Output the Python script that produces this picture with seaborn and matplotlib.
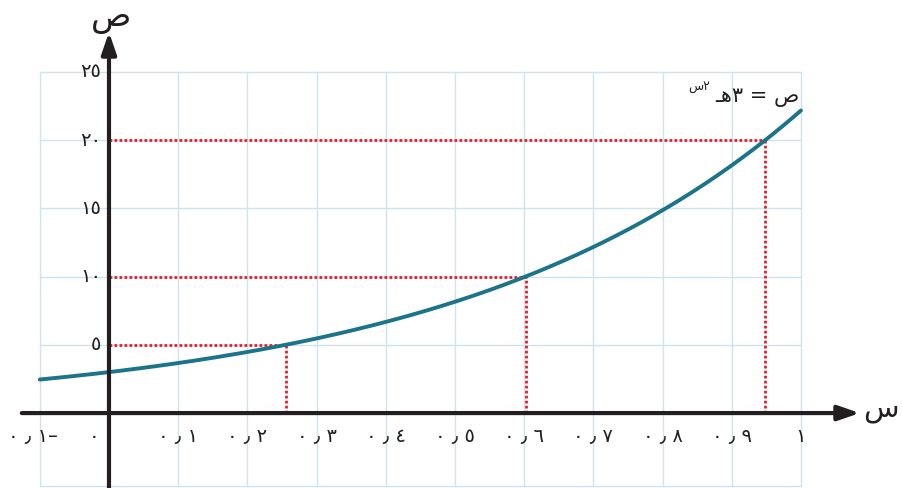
import numpy as np
import pandas as pd
import matplotlib
matplotlib.use("Agg")
import matplotlib.pyplot as plt
import seaborn as sns

# Function y = a * e^(b x)
coef_a = 3.0
rate_b = 2.0
x_start, x_end = -0.1, 1.0

# Ticks
x_ticks = [-0.1, 0.0, 0.1, 0.2, 0.3, 0.4, 0.5, 0.6, 0.7, 0.8, 0.9, 1.0]
x_tick_labels = ["٠ ٫ ١–", "٠", "٠ ٫ ١", "٠ ٫ ٢", "٠ ٫ ٣", "٠ ٫ ٤", "٠ ٫ ٥",
                 "٠ ٫ ٦", "٠ ٫ ٧", "٠ ٫ ٨", "٠ ٫ ٩", "١"]
y_ticks = [5, 10, 15, 20, 25]
y_tick_labels = ["٥", "١٠", "١٥", "٢٠", "٢٥"]

# Levels traced back to the x axis
marked_levels = [5, 10, 20]

sns.set_style("white")
plt.rcParams["font.family"] = ["DejaVu Sans"]

ink = "#231f20"
grid_col = "#cde4f0"
curve_col = "#1b7489"
guide_col = "#e3202b"

fig = plt.figure(figsize=(9.02, 4.88), dpi=100)
ax = fig.add_axes([0, 0, 1, 1])
ax.set_xlim(-0.1575, 1.146)
ax.set_ylim(-5.49, 30.26)
ax.axis("off")

# Grid
grid_bottom = -5.35
for xv in x_ticks:
    ax.plot([xv, xv], [grid_bottom, 25], color=grid_col, lw=1.0, zorder=1)
for yv in [0] + y_ticks + [grid_bottom]:
    ax.plot([x_start, x_end], [yv, yv], color=grid_col, lw=1.0, zorder=1)

# Curve
xs = np.linspace(x_start, x_end, 300)
curve = pd.DataFrame({"x": xs, "y": coef_a * np.exp(rate_b * xs)})
sns.lineplot(data=curve, x="x", y="y", ax=ax, color=curve_col, lw=2.8,
             zorder=4, legend=False)

# Dotted guides from each level to the curve and down to the x axis
for lvl in marked_levels:
    xp = np.log(lvl / coef_a) / rate_b
    ax.plot([0, xp], [lvl, lvl], color=guide_col, lw=2.0,
            linestyle=(0, (1, 0.8)), zorder=3)
    ax.plot([xp, xp], [0, lvl], color=guide_col, lw=2.0,
            linestyle=(0, (1, 0.8)), zorder=3)

# Axes with arrows
arrow_kw = dict(arrowstyle="-|>,head_length=1.3,head_width=0.45",
                color=ink, lw=3.0, shrinkA=0, shrinkB=0)
ax.annotate("", xy=(1.085, 0), xytext=(-0.126, 0), arrowprops=arrow_kw, zorder=5)
ax.annotate("", xy=(0, 27.9), xytext=(0, -5.6), arrowprops=arrow_kw, zorder=5)

# Tick labels
for xv, lab in zip(x_ticks, x_tick_labels):
    xpos = xv
    if xv == 0:
        xpos = -0.022
    elif xv == -0.1:
        xpos = -0.1 - 0.01
    ax.text(xpos, -1.75, lab, ha="center", va="center", fontsize=14, color=ink)
for yv, lab in zip(y_ticks, y_tick_labels):
    ax.text(-0.011, yv, lab, ha="right", va="center", fontsize=14, color=ink)

# Axis names
ax.text(0.003, 29.0, "ص", ha="center", va="center", fontsize=24, color=ink)
ax.text(1.090, 0.3, "س", ha="left", va="center", fontsize=21, color=ink)

# Equation label
ax.text(0.998, 22.8, "ـﻫ٣ = ص", ha="right", va="baseline", fontsize=15, color=ink)
ax.text(0.868, 23.7, "س٢", ha="right", va="baseline", fontsize=9, color=ink)

fig.savefig("out.png", dpi=100)
